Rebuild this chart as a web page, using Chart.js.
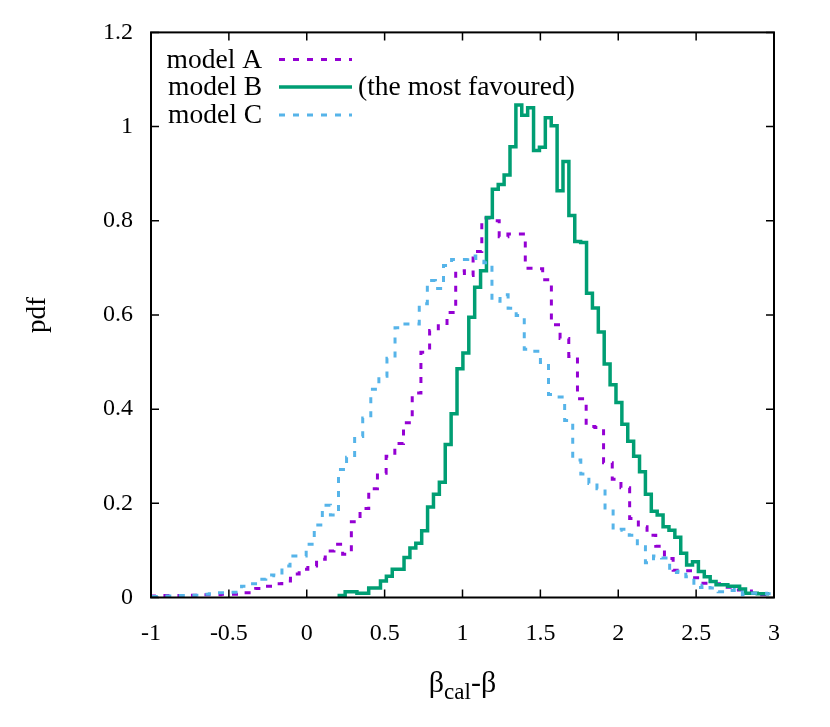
<!DOCTYPE html>
<html>
<head>
<meta charset="utf-8">
<script src="https://cdn.jsdelivr.net/npm/chart.js@4.4.1/dist/chart.umd.min.js"></script>
<style>
  html, body { margin: 0; padding: 0; background: #fff; }
  canvas { display: block; }
</style>
</head>
<body>
<canvas id="pdfChart" width="830" height="727"></canvas>
<script>
// histogram bins: left edge of first bin and bin width, per model
const binStartA = -0.998, binWidthA = 0.05584;
const binStartB = 0.2088, binWidthB = 0.0378;
const binStartC = -0.989, binWidthC = 0.05186;

// pdf value of each bin
const pdfA = [
    0.003, 0.004, 0.004, 0.004, 0.005, 0.005, 0.006, 0.006, 0.007, 0.007,
    0.010, 0.010, 0.019, 0.024, 0.029, 0.035, 0.050, 0.060, 0.067, 0.081,
    0.099, 0.113, 0.092, 0.161, 0.189, 0.231, 0.264, 0.300, 0.327, 0.371,
    0.434, 0.521, 0.567, 0.577, 0.605, 0.694, 0.684, 0.735, 0.806, 0.800,
    0.766, 0.772, 0.772, 0.699, 0.698, 0.675, 0.579, 0.550, 0.512, 0.422,
    0.363, 0.361, 0.286, 0.251, 0.233, 0.168, 0.150, 0.132, 0.109, 0.083,
    0.058, 0.057, 0.042, 0.030, 0.029, 0.029, 0.022, 0.016, 0.014, 0.009,
    0.006, 0.004
];
const pdfB = [
    0.004, 0.012, 0.012, 0.009, 0.009, 0.020, 0.020, 0.035, 0.045, 0.060,
    0.060, 0.085, 0.105, 0.115, 0.142, 0.192, 0.219, 0.245, 0.325, 0.390,
    0.486, 0.519, 0.595, 0.659, 0.694, 0.807, 0.867, 0.877, 0.897, 0.957,
    1.046, 1.024, 1.040, 0.949, 0.956, 1.019, 1.002, 0.864, 0.926, 0.811,
    0.756, 0.754, 0.646, 0.615, 0.564, 0.496, 0.452, 0.414, 0.368, 0.332,
    0.300, 0.267, 0.219, 0.183, 0.175, 0.150, 0.143, 0.128, 0.094, 0.069,
    0.076, 0.055, 0.044, 0.034, 0.027, 0.027, 0.024, 0.024, 0.018, 0.009,
    0.009, 0.008, 0.008
];
const pdfC = [
    0.002, 0.003, 0.003, 0.004, 0.005, 0.005, 0.007, 0.008, 0.010, 0.011,
    0.011, 0.024, 0.029, 0.039, 0.048, 0.046, 0.067, 0.088, 0.088, 0.113,
    0.154, 0.196, 0.175, 0.272, 0.298, 0.342, 0.381, 0.442, 0.470, 0.508,
    0.573, 0.581, 0.581, 0.624, 0.673, 0.656, 0.705, 0.718, 0.718, 0.725,
    0.714, 0.711, 0.629, 0.643, 0.614, 0.599, 0.527, 0.523, 0.499, 0.431,
    0.426, 0.376, 0.292, 0.262, 0.242, 0.231, 0.190, 0.143, 0.145, 0.132,
    0.108, 0.074, 0.088, 0.084, 0.053, 0.056, 0.044, 0.021, 0.026, 0.020,
    0.012, 0.015, 0.017, 0.006, 0.009, 0.009, 0.008
];

const modelNames = ['model A', 'model B', 'model C'];
const xTickLabels = ['-1', '-0.5', '0', '0.5', '1', '1.5', '2', '2.5', '3'];
const yTickLabels = ['0', '0.2', '0.4', '0.6', '0.8', '1', '1.2'];

const COLORS = ['#9400D3', '#009E73', '#56B4E9'];
const FONT = '"Liberation Serif", "Times New Roman", serif';

// step outline: one point per bin left edge, plus closing right edge
function histSteps(start, width, values) {
    const pts = [{ x: start, y: 0 }];
    values.forEach((v, i) => pts.push({ x: start + i * width, y: v }));
    pts.push({ x: start + values.length * width, y: values[values.length - 1] });
    return pts;
}

const frame = {
    id: 'frame',
    afterDraw(chart) {
        const { ctx, chartArea: a, scales } = chart;
        ctx.save();
        ctx.strokeStyle = '#000';

        // inward ticks, mirrored on top and right
        ctx.lineWidth = 1.5;
        ctx.beginPath();
        scales.x.ticks.forEach(t => {
            const px = scales.x.getPixelForValue(t.value);
            ctx.moveTo(px, a.bottom); ctx.lineTo(px, a.bottom - 8);
            ctx.moveTo(px, a.top); ctx.lineTo(px, a.top + 8);
        });
        scales.y.ticks.forEach(t => {
            const py = scales.y.getPixelForValue(t.value);
            ctx.moveTo(a.left, py); ctx.lineTo(a.left + 8, py);
            ctx.moveTo(a.right, py); ctx.lineTo(a.right - 8, py);
        });
        ctx.stroke();

        ctx.lineWidth = 2;
        ctx.strokeRect(a.left, a.top, a.right - a.left, a.bottom - a.top);

        ctx.fillStyle = '#000';

        // y axis title
        ctx.save();
        ctx.translate(38, (a.top + a.bottom) / 2);
        ctx.rotate(-Math.PI / 2);
        ctx.font = '27px ' + FONT;
        ctx.textAlign = 'center';
        ctx.textBaseline = 'middle';
        ctx.fillText('pdf', 0, 0);
        ctx.restore();

        // x axis title with subscript
        ctx.textBaseline = 'alphabetic';
        ctx.textAlign = 'left';
        const big = '30px ' + FONT, small = '23px ' + FONT;
        ctx.font = big;
        const w1 = ctx.measureText('\u03B2').width;
        const w3 = ctx.measureText('-\u03B2').width;
        ctx.font = small;
        const w2 = ctx.measureText('cal').width;
        const tx = (a.left + a.right) / 2 - (w1 + w2 + w3) / 2;
        const base = 692;
        ctx.font = big;
        ctx.fillText('\u03B2', tx, base);
        ctx.font = small;
        ctx.fillText('cal', tx + w1, base + 7);
        ctx.font = big;
        ctx.fillText('-\u03B2', tx + w1 + w2, base);

        // key
        const rows = [59.5, 87, 115];
        ctx.font = '27.5px ' + FONT;
        ctx.textBaseline = 'middle';
        chart.data.datasets.forEach((ds, i) => {
            const y = rows[i];
            ctx.textAlign = 'right';
            ctx.fillStyle = '#000';
            ctx.fillText(modelNames[i], 262, y + 1);
            ctx.strokeStyle = ds.borderColor;
            ctx.lineWidth = ds.borderWidth;
            ctx.setLineDash(ds.borderDash || []);
            ctx.beginPath();
            ctx.moveTo(279, y); ctx.lineTo(352, y);
            ctx.stroke();
            ctx.setLineDash([]);
        });
        ctx.textAlign = 'left';
        ctx.fillText('(the most favoured)', 358, rows[1] + 1);

        ctx.restore();
    }
};

new Chart(document.getElementById('pdfChart'), {
    type: 'line',
    data: {
        datasets: [
            {
                label: modelNames[0],
                data: histSteps(binStartA, binWidthA, pdfA),
                borderColor: COLORS[0],
                borderWidth: 3,
                borderDash: [6, 8],
                order: 3
            },
            {
                label: modelNames[1],
                data: histSteps(binStartB, binWidthB, pdfB),
                borderColor: COLORS[1],
                borderWidth: 3.5,
                order: 2
            },
            {
                label: modelNames[2],
                data: histSteps(binStartC, binWidthC, pdfC),
                borderColor: COLORS[2],
                borderWidth: 3,
                borderDash: [6, 8],
                order: 1
            }
        ]
    },
    options: {
        responsive: false,
        animation: false,
        devicePixelRatio: 1,
        layout: { padding: { top: 31.5, right: 56, left: 0, bottom: 0 } },
        elements: {
            point: { radius: 0 },
            line: { stepped: 'before', tension: 0, borderJoinStyle: 'miter', fill: false }
        },
        plugins: {
            legend: { display: false },
            tooltip: { enabled: false }
        },
        scales: {
            x: {
                type: 'linear',
                min: -1,
                max: 3,
                grid: { display: false, drawTicks: false },
                border: { display: false },
                ticks: {
                    stepSize: 0.5,
                    autoSkip: false,
                    maxRotation: 0,
                    padding: 22,
                    color: '#000',
                    font: { family: FONT, size: 24 },
                    callback: (v, i) => xTickLabels[i]
                },
                afterFit(s) { s.height = 727 - 597.5; }
            },
            y: {
                type: 'linear',
                min: 0,
                max: 1.2,
                grid: { display: false, drawTicks: false },
                border: { display: false },
                ticks: {
                    stepSize: 0.2,
                    autoSkip: false,
                    padding: 18,
                    color: '#000',
                    font: { family: FONT, size: 24 },
                    callback: (v, i) => yTickLabels[i]
                },
                afterFit(s) { s.width = 151; }
            }
        }
    },
    plugins: [frame]
});
</script>
</body>
</html>
